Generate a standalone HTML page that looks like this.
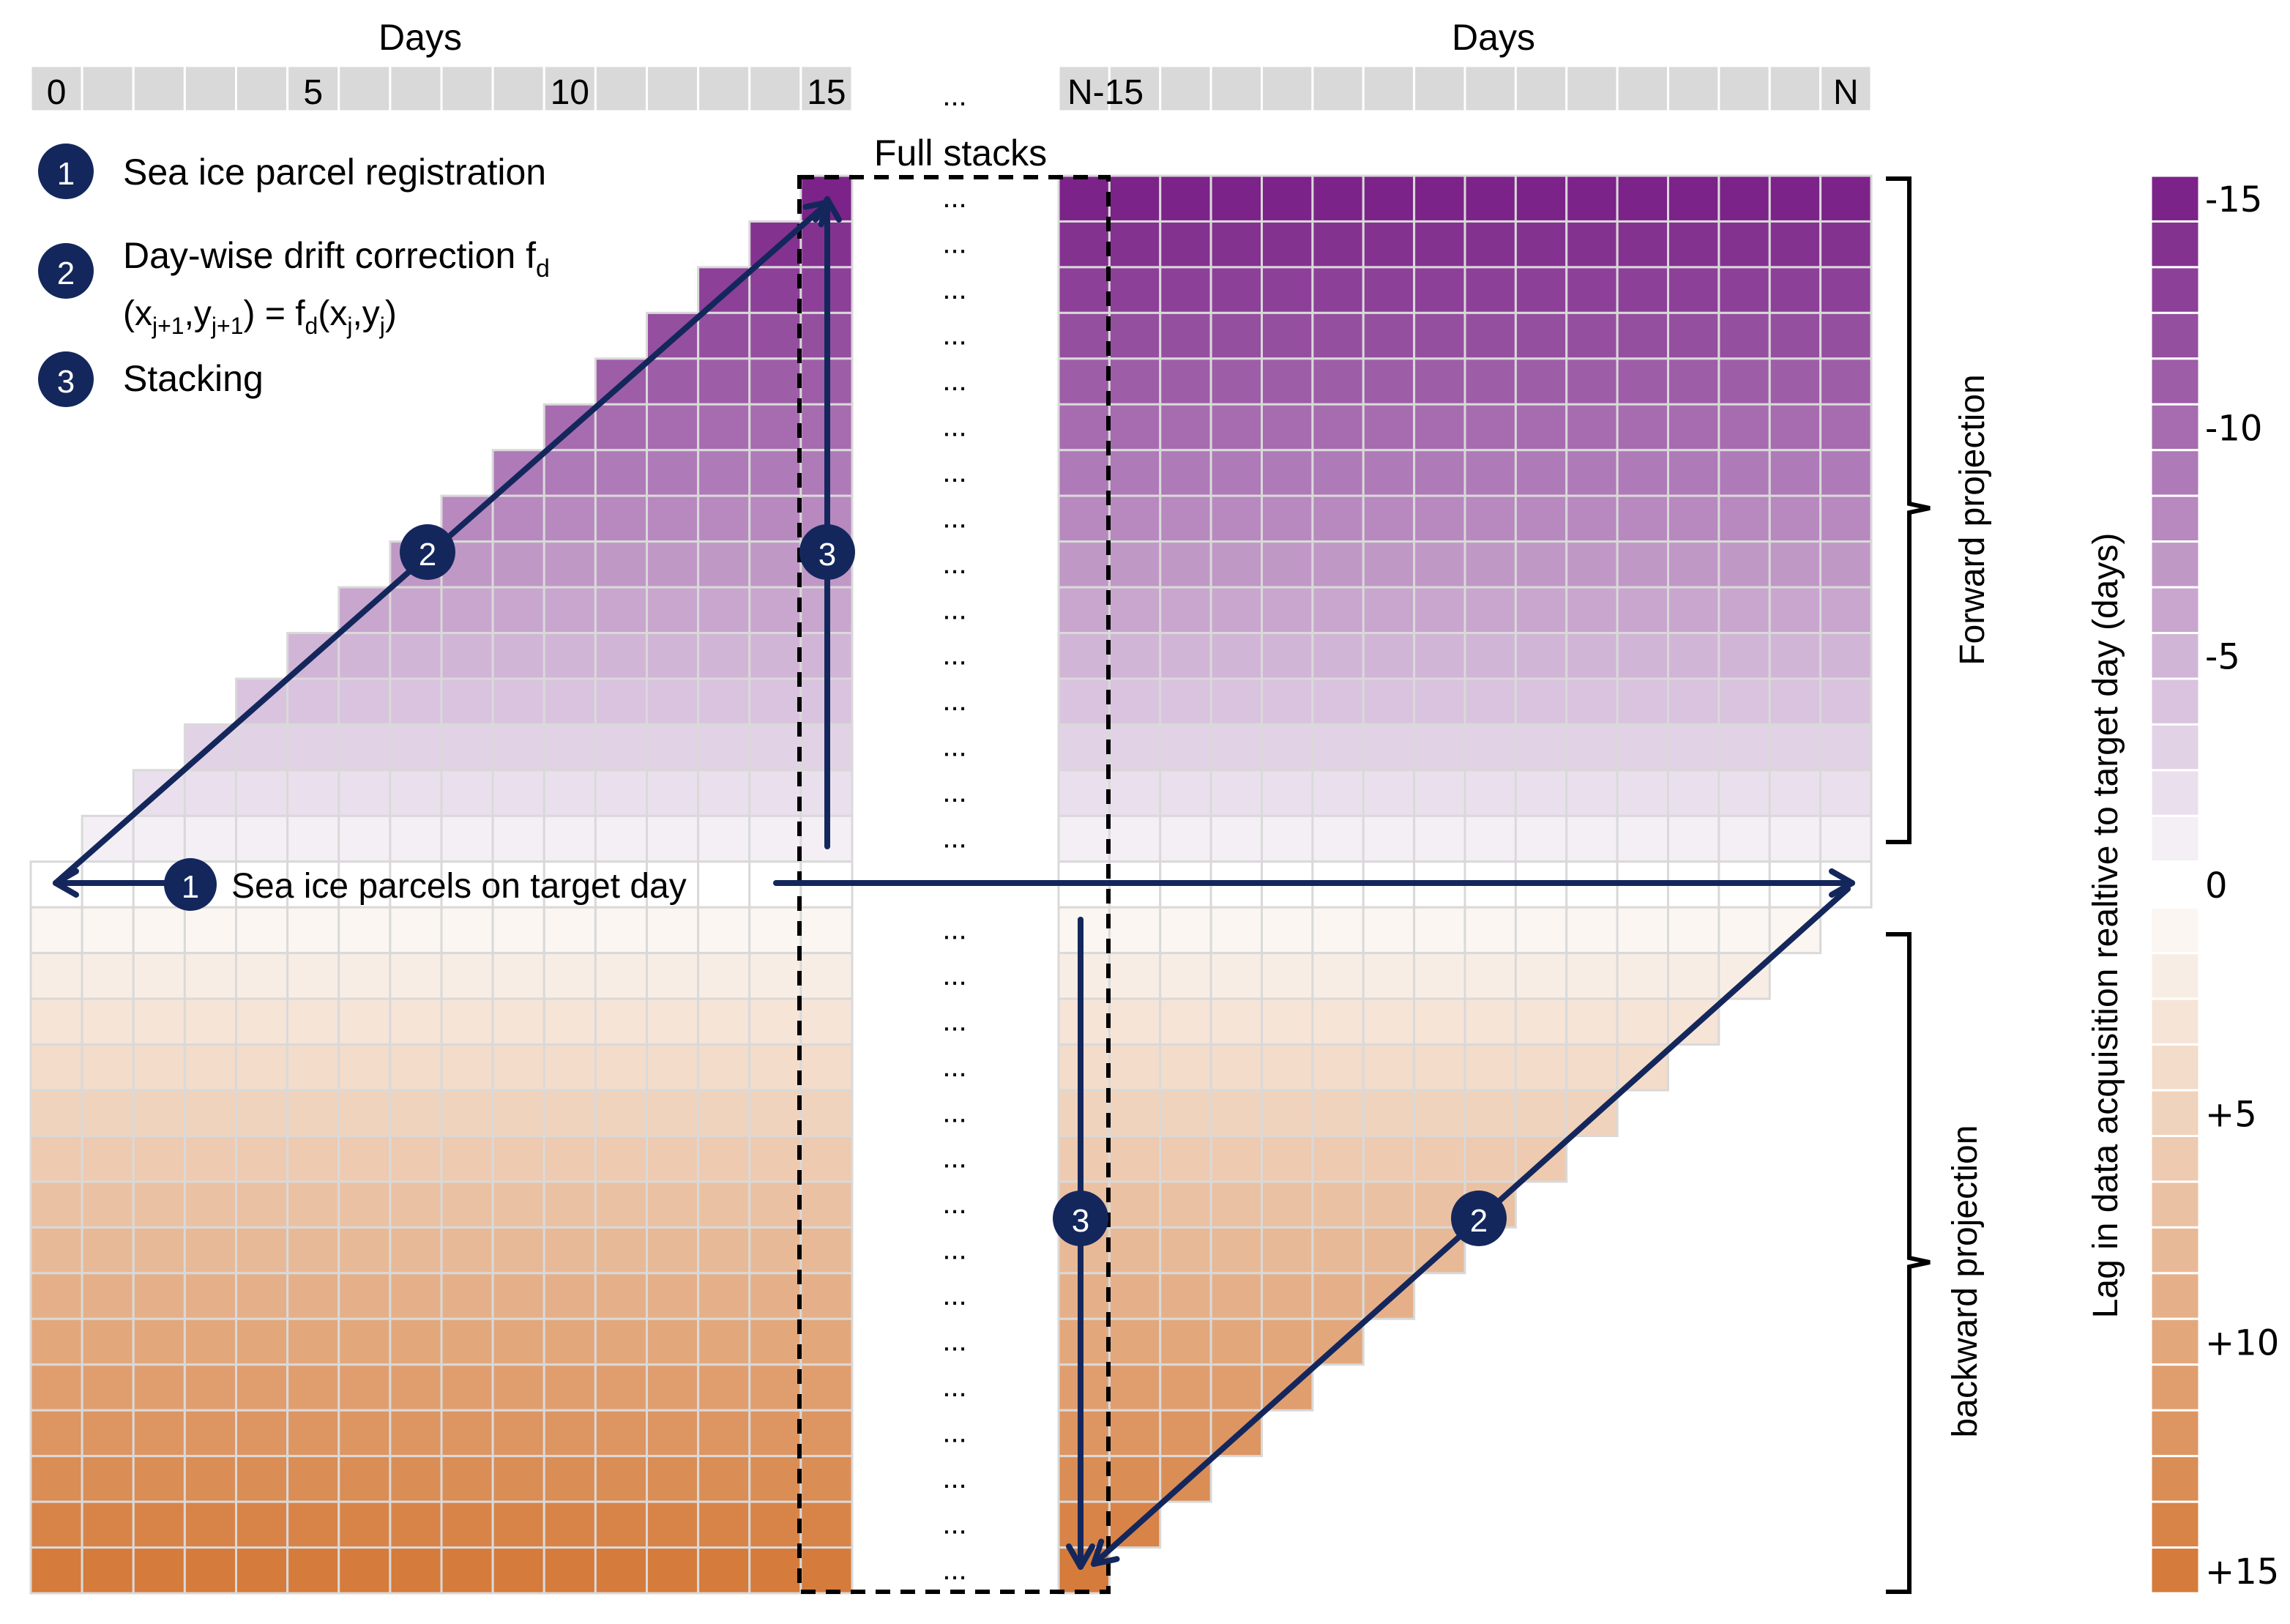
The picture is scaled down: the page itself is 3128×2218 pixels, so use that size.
<!DOCTYPE html>
<html><head><meta charset="utf-8">
<style>
html,body{margin:0;padding:0;background:#fff;}
svg{display:block;}
text{font-family:"Liberation Sans",sans-serif;fill:#000;}
.cb{font-family:"DejaVu Sans",sans-serif;}
</style></head>
<body>
<svg id="fig" xmlns="http://www.w3.org/2000/svg" width="3128" height="2218" viewBox="0 0 1564 1109">
<defs>
<marker id="ah" viewBox="0 0 20 20" refX="18" refY="10" markerWidth="20" markerHeight="20" markerUnits="userSpaceOnUse" orient="auto">
<polyline points="4,2 18,10 4,18" fill="none" stroke="#14275c" stroke-width="4" stroke-linecap="round" stroke-linejoin="round"/>
</marker>
</defs>
<g id="grids"></g>
<g id="over"></g>
</svg>
<script>
// data
const leftDays = [0,1,2,3,4,5,6,7,8,9,10,11,12,13,14,15];
const leftDayLabels = ["0","","","","","5","","","","","10","","","","","15"];
const rightDayLabels = ["N-15","","","","","","","","","","","","","","","N"];
const lags = [-15,-14,-13,-12,-11,-10,-9,-8,-7,-6,-5,-4,-3,-2,-1,0,1,2,3,4,5,6,7,8,9,10,11,12,13,14,15];
const colorbarTicks = [-15,-10,-5,0,5,10,15];
const colorbarTickLabels = ["-15","-10","-5","0","+5","+10","+15"];

const NS="http://www.w3.org/2000/svg";
const G=document.getElementById('grids'), O=document.getElementById('over');
function mk(tag,attrs,parent){const e=document.createElementNS(NS,tag);for(const k in attrs)e.setAttribute(k,attrs[k]);(parent||G).appendChild(e);return e;}
const top0=120, rowH=(1088-120)/31;
function yOf(lag){return top0+(lag+15)*rowH;}
const L0=21, LW=(582-21)/16, R0=723, RW=(1278-723)/16;
function xL(i){return L0+i*LW;} function xR(i){return R0+i*RW;}
function mix(a,b,t){return a.map((v,i)=>Math.round(v+(b[i]-v)*t));}
function color(lag){
  if(lag===0) return '#ffffff';
  if(lag<0){const t=(-lag-1)/14;const c=mix([243,239,245],[123,35,136],t);return `rgb(${c})`;}
  const t=(lag-1)/14;const c=mix([251,246,241],[213,123,59],t);return `rgb(${c})`;
}
function header(x0,w,labels,name){
  labels.forEach((lb,i)=>{
    const r=mk('rect',{x:x0+i*w,y:45,width:w,height:31,fill:'#d9d9d9',stroke:'#fff','stroke-width':1.5});
    
    
  });
  labels.forEach((lb,i)=>{
    if(lb){
      const long=lb.length>2;
      const t=mk('text',{x:long?x0+i*w+6:x0+i*w+w/2,y:71,'font-size':24,'text-anchor':long?'start':'middle'});t.textContent=lb;
      
      }
  });
}
header(L0,LW,leftDayLabels,'left-day-header');
header(R0,RW,rightDayLabels,'right-day-header');
lags.forEach(lag=>{
  const y=yOf(lag);
  leftDays.forEach(d=>{
    if(!(lag<0 && d<-lag)) {
      const c=mk('rect',{x:xL(d),y:y,width:LW,height:rowH,fill:color(lag),stroke:'#d9d9d9','stroke-width':1.5});
      
      
    }
    if(!(lag>0 && d>15-lag)) {
      const c=mk('rect',{x:xR(d),y:y,width:RW,height:rowH,fill:color(lag),stroke:'#d9d9d9','stroke-width':1.5});
      
      
    }
  });
  const cb=mk('rect',{x:1469,y:y,width:33,height:rowH,fill:color(lag),stroke:'#fff','stroke-width':1.5});
  
  
  if(lag!==0){
    const t=mk('text',{x:652,y:y+rowH/2+6,'font-size':20,'text-anchor':'middle'});t.textContent='...';
    
    
  }
});
colorbarTicks.forEach((v,i)=>{
  const t=mk('text',{x:1506,y:yOf(v)+rowH/2+9,'font-size':24,'class':'cb'});t.textContent=colorbarTickLabels[i];
  
  
});

const html=`
<text x="287" y="34" font-size="25" text-anchor="middle">Days</text>
<text x="1020" y="34" font-size="25" text-anchor="middle">Days</text>
<text x="652" y="72" font-size="20" text-anchor="middle">...</text>
<text x="656" y="113" font-size="25" text-anchor="middle">Full stacks</text>
<rect x="546" y="121" width="211" height="966" fill="none" stroke="#000" stroke-width="3" stroke-dasharray="10,7"/>
<g>
<circle cx="45" cy="117" r="19" fill="#14275c"/><text x="45" y="126" font-size="22" text-anchor="middle" style="fill:#fff">1</text>
<text x="84" y="126" font-size="25">Sea ice parcel registration</text>
<circle cx="45" cy="185" r="19" fill="#14275c"/><text x="45" y="194" font-size="22" text-anchor="middle" style="fill:#fff">2</text>
<text x="84" y="183" font-size="25">Day-wise drift correction f<tspan font-size="17" dy="6">d</tspan></text>
<text x="84" y="222" font-size="24">(x<tspan font-size="16" dy="6">j+1</tspan><tspan dy="-6">,y</tspan><tspan font-size="16" dy="6">j+1</tspan><tspan dy="-6">) = f</tspan><tspan font-size="16" dy="6">d</tspan><tspan dy="-6">(x</tspan><tspan font-size="16" dy="6">j</tspan><tspan dy="-6">,y</tspan><tspan font-size="16" dy="6">j</tspan><tspan dy="-6">)</tspan></text>
<circle cx="45" cy="259" r="19" fill="#14275c"/><text x="45" y="268" font-size="22" text-anchor="middle" style="fill:#fff">3</text>
<text x="84" y="267" font-size="25">Stacking</text>
</g>
<g stroke="#14275c" stroke-width="4" stroke-linecap="round" fill="none">
<line x1="120" y1="603" x2="38" y2="603" marker-end="url(#ah)"/>
<line x1="530" y1="603" x2="1265" y2="603" marker-end="url(#ah)"/>
<line x1="38" y1="603" x2="566" y2="138" marker-end="url(#ah)"/>
<line x1="565" y1="578" x2="565" y2="136" marker-end="url(#ah)"/>
<line x1="1262" y1="607" x2="747" y2="1068" marker-end="url(#ah)"/>
<line x1="738" y1="628" x2="738" y2="1070" marker-end="url(#ah)"/>
</g>
<text x="158" y="613" font-size="24">Sea ice parcels on target day</text>
<g>
<circle cx="130" cy="604" r="18" fill="#14275c"/><text x="130" y="613" font-size="22" text-anchor="middle" style="fill:#fff">1</text>
<circle cx="292" cy="377" r="19" fill="#14275c"/><text x="292" y="386" font-size="22" text-anchor="middle" style="fill:#fff">2</text>
<circle cx="565" cy="377" r="19" fill="#14275c"/><text x="565" y="386" font-size="22" text-anchor="middle" style="fill:#fff">3</text>
<circle cx="738" cy="832" r="19" fill="#14275c"/><text x="738" y="841" font-size="22" text-anchor="middle" style="fill:#fff">3</text>
<circle cx="1010" cy="832" r="19" fill="#14275c"/><text x="1010" y="841" font-size="22" text-anchor="middle" style="fill:#fff">2</text>
</g>
<path d="M1288,122 H1304 V344 L1318,347 L1304,350 V575 H1288" fill="none" stroke="#000" stroke-width="3"/>
<path d="M1288,638 H1304 V859 L1318,862 L1304,865 V1087 H1288" fill="none" stroke="#000" stroke-width="3"/>
<text transform="translate(1355,355) rotate(-90)" font-size="24" text-anchor="middle">Forward projection</text>
<text transform="translate(1350,875) rotate(-90)" font-size="24" text-anchor="middle">backward projection</text>
<text transform="translate(1446,632) rotate(-90)" font-size="24" text-anchor="middle">Lag in data acquisition realtive to target day (days)</text>
`;
O.innerHTML=html;
</script>
</body></html>
